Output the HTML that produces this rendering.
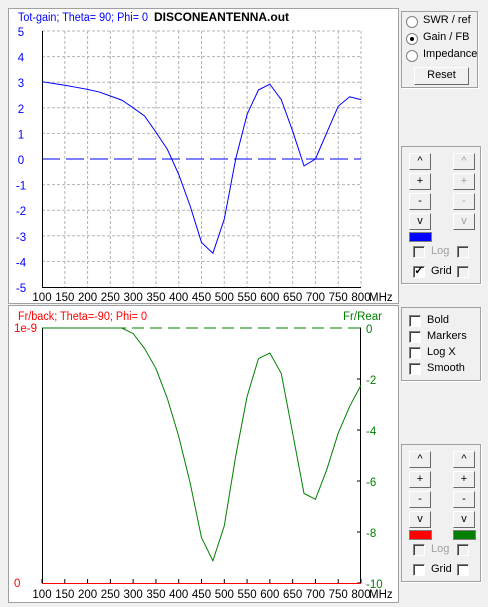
<!DOCTYPE html>
<html><head><meta charset="utf-8"><style>
body{margin:0;width:488px;height:607px;background:#f0f0f0;font-family:"Liberation Sans",sans-serif;font-size:11px;overflow:hidden;position:relative}
.abs{position:absolute}
.frame{position:absolute;background:#fff;border:1px solid #a0a0a0;box-sizing:border-box}
.grp{position:absolute;border:1px solid #a0a0a0;box-shadow:1px 1px 0 #fff;box-sizing:border-box}
.btn{position:absolute;width:22px;height:17px;background:#f0f0f0;border:1px solid;border-color:#fff #696969 #696969 #fff;box-sizing:border-box;text-align:center;font-size:11px;line-height:14px}
.dis{color:#a0a0a0}
.cb{position:absolute;width:12px;height:12px;background:#fff;border:1px solid;border-color:#808080 #fff #fff #808080;box-shadow:inset 1px 1px 0 #404040;box-sizing:border-box}
.cb.d{background:#f0f0f0}
.lbl{position:absolute;font-size:11px}
.rad{position:absolute;width:12px;height:12px;border-radius:50%;background:#fff;border:1px solid #808080;box-sizing:border-box}
</style></head><body>
<div class="frame" style="left:8px;top:8px;width:391px;height:296px"></div>
<div class="frame" style="left:8px;top:305px;width:391px;height:298px"></div>
<svg class="abs" style="left:0;top:0" width="400" height="607" id="svg"></svg>

<div class="grp" style="left:401px;top:11px;width:77px;height:77px"></div>
<div class="rad" style="left:406px;top:16px"></div><div class="lbl" style="left:423px;top:14px">SWR / ref</div>
<div class="rad" style="left:406px;top:33px"><div style="position:absolute;left:3px;top:3px;width:4px;height:4px;border-radius:50%;background:#000"></div></div><div class="lbl" style="left:423px;top:31px">Gain / FB</div>
<div class="rad" style="left:406px;top:50px"></div><div class="lbl" style="left:423px;top:48px">Impedance</div>
<div class="btn" style="left:414px;top:67px;width:55px;height:18px">Reset</div>

<div class="grp" style="left:401px;top:146px;width:80px;height:138px"></div>
<div class="btn" style="left:409px;top:153px">^</div>
<div class="btn dis" style="left:453px;top:153px">^</div>
<div class="btn" style="left:409px;top:173px">+</div>
<div class="btn dis" style="left:453px;top:173px">+</div>
<div class="btn" style="left:409px;top:193px">-</div>
<div class="btn dis" style="left:453px;top:193px">-</div>
<div class="btn" style="left:409px;top:213px">v</div>
<div class="btn dis" style="left:453px;top:213px">v</div>
<div class="abs" style="left:409px;top:232px;width:21px;height:8px;background:#0000ff;border:1px solid #808080"></div>
<div class="cb d" style="left:413px;top:246px"></div><div class="lbl dis" style="left:431px;top:245px">Log</div><div class="cb d" style="left:457px;top:246px"></div>
<div class="cb" style="left:413px;top:266px;font-size:11px;line-height:9px;text-align:center;font-weight:bold">✓</div><div class="lbl" style="left:431px;top:265px">Grid</div><div class="cb d" style="left:457px;top:266px"></div>

<div class="grp" style="left:401px;top:307px;width:80px;height:74px"></div>
<div class="cb" style="left:409px;top:315px"></div><div class="lbl" style="left:427px;top:314px">Bold</div>
<div class="cb" style="left:409px;top:331px"></div><div class="lbl" style="left:427px;top:330px">Markers</div>
<div class="cb" style="left:409px;top:347px"></div><div class="lbl" style="left:427px;top:346px">Log X</div>
<div class="cb" style="left:409px;top:363px"></div><div class="lbl" style="left:427px;top:362px">Smooth</div>

<div class="grp" style="left:401px;top:444px;width:80px;height:138px"></div>
<div class="btn" style="left:409px;top:451px">^</div>
<div class="btn" style="left:453px;top:451px">^</div>
<div class="btn" style="left:409px;top:471px">+</div>
<div class="btn" style="left:453px;top:471px">+</div>
<div class="btn" style="left:409px;top:491px">-</div>
<div class="btn" style="left:453px;top:491px">-</div>
<div class="btn" style="left:409px;top:511px">v</div>
<div class="btn" style="left:453px;top:511px">v</div>
<div class="abs" style="left:409px;top:530px;width:21px;height:8px;background:#ff0000;border:1px solid #808080"></div>
<div class="abs" style="left:453px;top:530px;width:21px;height:8px;background:#008000;border:1px solid #808080"></div>
<div class="cb d" style="left:413px;top:544px"></div><div class="lbl dis" style="left:431px;top:543px">Log</div><div class="cb d" style="left:457px;top:544px"></div>
<div class="cb" style="left:413px;top:564px"></div><div class="lbl" style="left:431px;top:563px">Grid</div><div class="cb" style="left:457px;top:564px"></div>

<script>
const freqs=[100,125,150,175,200,225,250,275,300,325,350,375,400,425,450,475,500,525,550,575,600,625,650,675,700,725,750,775,800];
const gain=[3.02,2.95,2.88,2.8,2.72,2.62,2.46,2.3,2.0,1.68,1.05,0.38,-0.6,-1.83,-3.26,-3.68,-2.35,0,1.74,2.7,2.92,2.32,1.09,-0.27,0,1.03,2.06,2.43,2.32];
const fb=[0,0,0,0,0,0,0,0,-0.22,-0.8,-1.59,-2.76,-4.25,-6.07,-8.22,-9.13,-7.76,-5.03,-2.69,-1.2,-0.98,-1.78,-4.12,-6.49,-6.72,-5.55,-4.12,-3.08,-2.24];
const xTicks=[100,150,200,250,300,350,400,450,500,550,600,650,700,750,800];
const gainTicks=[5,4,3,2,1,0,-1,-2,-3,-4,-5];
const fbTicks=[0,-2,-4,-6,-8,-10];
const NS='http://www.w3.org/2000/svg';
const svg=document.getElementById('svg');
function mk(t,a,txt){const e=document.createElementNS(NS,t);for(const k in a)e.setAttribute(k,a[k]);if(txt!==undefined)e.textContent=txt;svg.appendChild(e);return e;}
const X=f=>42+(f-100)*(319/700);
const Yg=v=>159-v*25.6;
const Yf=v=>328-v*25.5;
const FS='11.5';
for(const t of xTicks){if(t>100){const g=mk('line',{x1:X(t),x2:X(t),y1:31,y2:287,stroke:'#b4b4b4','stroke-dasharray':'3,2'});}}
for(const t of gainTicks){if(t!==-5&&t!==0){const g=mk('line',{x1:42,x2:361,y1:Yg(t),y2:Yg(t),stroke:'#b4b4b4','stroke-dasharray':'3,2'});}}
for(const t of gainTicks){const l=mk('text',{x:21,y:Yg(t)+5,fill:'#0000ff','font-size':FS,'text-anchor':'middle'},String(t));}
let z=mk('line',{x1:42,x2:361,y1:Yg(0),y2:Yg(0),stroke:'#0000ff','stroke-dasharray':'18,6'});

let ax=mk('path',{d:`M42.5 31V${287.5}H361`,stroke:'#000',fill:'none'});

let gp=mk('polyline',{points:freqs.map((f,i)=>X(f)+','+Yg(gain[i])).join(' '),fill:'none',stroke:'#0000ff'});

function xl(y){for(const t of xTicks){const l=mk('text',{x:X(t),y:y,fill:'#000','font-size':FS,'text-anchor':'middle'},String(t));}
const m=mk('text',{x:369,y:y,'font-size':FS},'MHz');}
xl(301);xl(598);
let t1=mk('text',{x:18,y:21,fill:'#0000ff','font-size':FS,textLength:130,lengthAdjust:'spacingAndGlyphs'},'Tot-gain; Theta= 90; Phi= 0');
let t2=mk('text',{x:154,y:21,fill:'#000','font-size':FS,'font-weight':'bold',textLength:135,lengthAdjust:'spacingAndGlyphs'},'DISCONEANTENNA.out');
let t3=mk('text',{x:18,y:320,fill:'#ff0000','font-size':FS,textLength:129,lengthAdjust:'spacingAndGlyphs'},'Fr/back; Theta=-90; Phi= 0');
let t4=mk('text',{x:382,y:320,fill:'#008000','font-size':FS,'text-anchor':'end'},'Fr/Rear');
let l1=mk('text',{x:14,y:332,fill:'#ff0000','font-size':FS},'1e-9');
let l2=mk('text',{x:14,y:587,fill:'#ff0000','font-size':FS},'0');
for(const t of fbTicks){const tk=mk('line',{x1:357,x2:361,y1:Yf(t),y2:Yf(t),stroke:'#000'});
const l=mk('text',{x:366,y:Yf(t)+5,fill:'#008000','font-size':FS},String(t));}
for(const t of xTicks){const tk=mk('line',{x1:X(t),x2:X(t),y1:579,y2:583,stroke:'#000'});}
let ax2=mk('path',{d:`M42.5 328V583.5M360.5 328V583.5`,stroke:'#000',fill:'none'});
let rb=mk('line',{x1:42,x2:361,y1:583.5,y2:583.5,stroke:'#ff0000'});
let rt=mk('line',{x1:42,x2:361,y1:328,y2:328,stroke:'#008000','stroke-dasharray':'12,6'});
let fp=mk('polyline',{points:freqs.map((f,i)=>X(f)+','+Yf(fb[i])).join(' '),fill:'none',stroke:'#008000'});

</script>
</body></html>
